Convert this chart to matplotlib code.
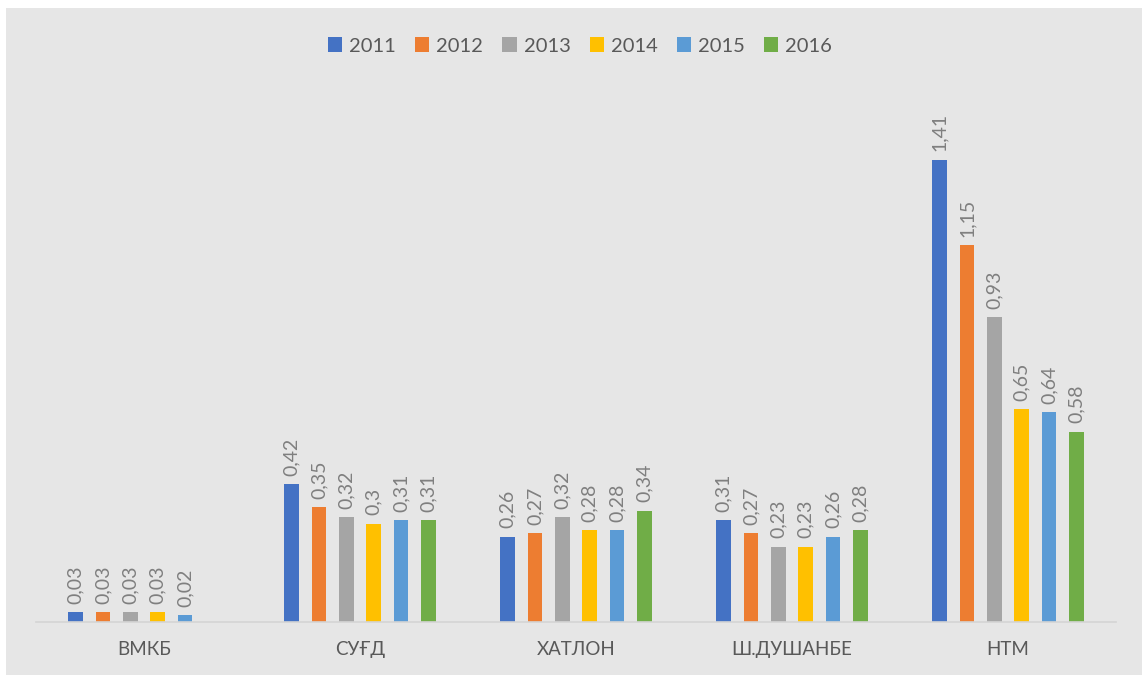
import numpy as np
import matplotlib.pyplot as plt
from matplotlib.patches import Rectangle

plt.rcParams['font.family'] = ['Lato', 'DejaVu Sans']

regions = ['ВМКБ', 'СУҒД', 'ХАТЛОН', 'Ш.ДУШАНБЕ', 'НТМ']
years = ['2011', '2012', '2013', '2014', '2015', '2016']
v2011 = [0.03, 0.42, 0.26, 0.31, 1.41]
v2012 = [0.03, 0.35, 0.27, 0.27, 1.15]
v2013 = [0.03, 0.32, 0.32, 0.23, 0.93]
v2014 = [0.03, 0.30, 0.28, 0.23, 0.65]
v2015 = [0.02, 0.31, 0.28, 0.26, 0.64]
v2016 = [np.nan, 0.31, 0.34, 0.28, 0.58]
series = [v2011, v2012, v2013, v2014, v2015, v2016]
colors = ['#4472C4', '#ED7D31', '#A5A5A5', '#FFC000', '#5B9BD5', '#70AD47']

W, H = 1142, 675
fig = plt.figure(figsize=(W / 100, H / 100), dpi=100)
fig.patch.set_facecolor('white')
fig.patches.append(Rectangle((6 / W, 0), 1, 1 - 8 / H, transform=fig.transFigure,
                             facecolor='#E6E6E6', edgecolor='none', zorder=-10))

ax = fig.add_axes([36 / W, 1 - 622 / H, 1080 / W, (622 - 81) / H])
ax.set_facecolor('none')

x = np.arange(len(regions))
pitch = 0.127
width = 0.067
handles = []
for i, (vals, c, yr) in enumerate(zip(series, colors, years)):
    pos = x + (i - 2.5) * pitch
    bars = ax.bar(pos, vals, width, color=c, label=yr, zorder=2)
    handles.append(bars)
    for p, v in zip(pos, vals):
        if np.isnan(v):
            continue
        lbl = ('%g' % v).replace('.', ',')
        ax.annotate(lbl, (p, v), xytext=(0, 6), textcoords='offset points',
                    rotation=90, ha='center', va='bottom', fontsize=14,
                    color='#7F7F7F')

ax.set_xlim(-0.5, len(regions) - 0.5)
ax.set_ylim(0, 1.65)
ax.set_yticks([])
ax.set_xticks(x)
ax.set_xticklabels(regions, fontsize=13.5, color='#595959')
ax.tick_params(axis='x', length=0, pad=14)
for s in ['top', 'right', 'left']:
    ax.spines[s].set_visible(False)
ax.spines['bottom'].set_color('#D4D4D4')
ax.spines['bottom'].set_linewidth(1.2)

leg = fig.legend(handles=handles, labels=years, loc='center',
                 bbox_to_anchor=(0.508, 1 - 46 / H), ncol=6, frameon=False,
                 fontsize=14.5, handlelength=0.7, handleheight=0.7,
                 handletextpad=0.35, columnspacing=0.95)
for t in leg.get_texts():
    t.set_color('#595959')

fig.savefig('out.png', dpi=100)
